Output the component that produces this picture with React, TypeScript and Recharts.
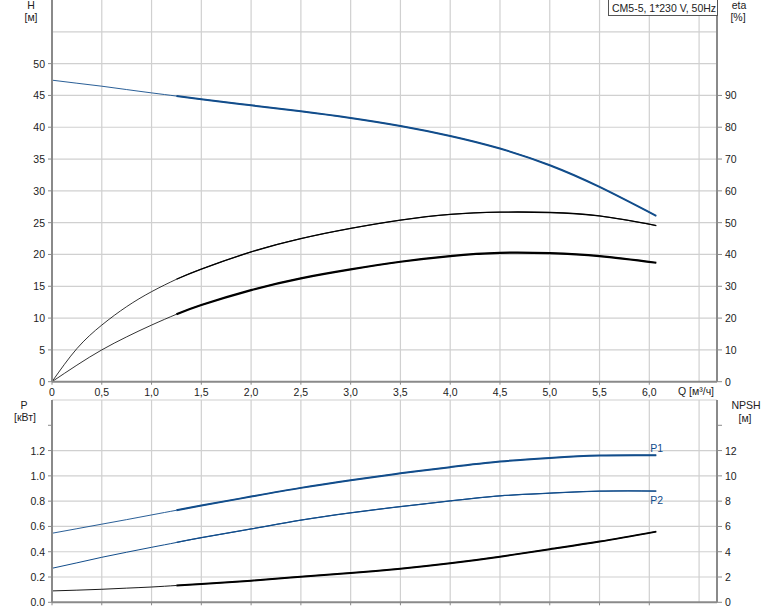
import { LineChart, Line, XAxis, YAxis, CartesianGrid } from "recharts";

// ---------------------------------------------------------------------------
// Data
// ---------------------------------------------------------------------------

const flow = [0, 0.25, 0.5, 0.75, 1.0, 1.25, 1.5, 2.0, 2.5, 3.0, 3.5, 4.0, 4.5, 5.0, 5.5, 6.07];
const head = [47.4, 46.92, 46.45, 45.92, 45.4, 44.9, 44.4, 43.45, 42.5, 41.45, 40.2, 38.63, 36.65, 34.03, 30.62, 26.07];
const etaPump = [0, 10.4, 17.8, 23.6, 28.3, 32.2, 35.4, 40.8, 45.0, 48.2, 50.8, 52.6, 53.3, 53.2, 52.1, 49.1];
const etaTotal = [0, 5.2, 10.0, 14.1, 17.8, 21.2, 24.1, 28.8, 32.5, 35.3, 37.7, 39.5, 40.5, 40.4, 39.5, 37.4];
const powerP1 = [0.546, 0.582, 0.618, 0.654, 0.691, 0.728, 0.765, 0.836, 0.905, 0.965, 1.02, 1.069, 1.113, 1.142, 1.161, 1.163];
const powerP2 = [0.269, 0.312, 0.356, 0.396, 0.435, 0.473, 0.511, 0.58, 0.65, 0.708, 0.757, 0.802, 0.842, 0.863, 0.879, 0.88];
const npsh = [0.9, 0.96, 1.03, 1.12, 1.21, 1.33, 1.45, 1.71, 2.03, 2.32, 2.66, 3.09, 3.61, 4.2, 4.8, 5.59];

const qTicks = [0, 0.5, 1.0, 1.5, 2.0, 2.5, 3.0, 3.5, 4.0, 4.5, 5.0, 5.5, 6.0, 6.5];
const hTicks = [0, 5, 10, 15, 20, 25, 30, 35, 40, 45, 50];
const hGrid = [5, 10, 15, 20, 25, 30, 35, 40, 45, 50, 55];
const etaTicks = [0, 10, 20, 30, 40, 50, 60, 70, 80, 90];
const pTicks = [0, 0.2, 0.4, 0.6, 0.8, 1.0, 1.2, 1.4];
const pGrid = [0.2, 0.4, 0.6, 0.8, 1.0, 1.2, 1.6];
const npshTicks = [0, 2, 4, 6, 8, 10, 12, 14];

// operating range starts here: curves are drawn heavier from this flow on
const DUTY_START = 1.25;

const rows = flow.map((q, i) => ({
  q,
  h: head[i],
  etaP: etaPump[i],
  etaT: etaTotal[i],
  p1: powerP1[i],
  p2: powerP2[i],
  npsh: npsh[i],
}));
const thickRows = rows.filter((r) => r.q >= DUTY_START);

// ---------------------------------------------------------------------------
// Styles
// ---------------------------------------------------------------------------

const FONT = "'Liberation Sans', Arial, sans-serif";
const FONT_SIZE = 10.5;
const TEXT = "#222";
const AXIS = "#8a8a8a";
const GRID = "#d0d0d0";
const BLUE = "#124d8b";
const Q_MAX = 6.68;

const textProps = { fontFamily: FONT, fontSize: FONT_SIZE, fill: TEXT };

type Side = "left" | "right" | "bottom";

const makeTick =
  (side: Side, labelled: number[], marked: number[], fmt: (v: number) => string) =>
  (props: any) => {
    const { x, y, payload } = props;
    const v = payload.value as number;
    const hasLabel = labelled.some((t) => Math.abs(t - v) < 1e-6);
    const hasMark = marked.some((t) => Math.abs(t - v) < 1e-6);
    if (side === "left") {
      return (
        <g>
          {hasMark && <line x1={x - 4} x2={x} y1={y} y2={y} stroke={AXIS} />}
          {hasLabel && (
            <text x={x - 7} y={y} textAnchor="end" dominantBaseline="central" {...textProps}>
              {fmt(v)}
            </text>
          )}
        </g>
      );
    }
    if (side === "right") {
      return (
        <g>
          {hasMark && <line x1={x} x2={x + 5} y1={y} y2={y} stroke={AXIS} />}
          {hasLabel && (
            <text x={x + 8} y={y} textAnchor="start" dominantBaseline="central" {...textProps}>
              {fmt(v)}
            </text>
          )}
        </g>
      );
    }
    return (
      <g>
        {hasMark && <line x1={x} x2={x} y1={y} y2={y + 3} stroke={AXIS} />}
        {hasLabel && (
          <text x={x} y={y + 10} textAnchor="middle" dominantBaseline="central" {...textProps}>
            {fmt(v)}
          </text>
        )}
      </g>
    );
  };

const fmtQ = (v: number) => (v === 0 ? "0" : v.toFixed(1).replace(".", ","));
const fmtInt = (v: number) => String(Math.round(v));
const fmtP = (v: number) => v.toFixed(1);

const endLabel =
  (text: string, dy: number) =>
  (props: any) => {
    if (props.index !== thickRows.length - 1) return <g />;
    return (
      <text x={props.x - 6} y={props.y + dy} dominantBaseline="central" fontFamily={FONT} fontSize={FONT_SIZE} fill={BLUE}>
        {text}
      </text>
    );
  };

// a curve = thin line over the full range + heavier line over the duty range
function curveLines(dataKey: string, yAxisId: string, color: string, thin: number, thick: number, label?: any) {
  return [
    <Line
      key={dataKey + "-full"}
      xAxisId="q"
      yAxisId={yAxisId}
      data={rows}
      dataKey={dataKey}
      type="natural"
      stroke={color}
      strokeWidth={thin}
      dot={false}
      isAnimationActive={false}
    />,
    <Line
      key={dataKey + "-duty"}
      xAxisId="q"
      yAxisId={yAxisId}
      data={thickRows}
      dataKey={dataKey}
      type="natural"
      stroke={color}
      strokeWidth={thick}
      dot={false}
      isAnimationActive={false}
      label={label}
    />,
  ];
}

// ---------------------------------------------------------------------------
// Component
// ---------------------------------------------------------------------------

export default function App() {
  const axisLine = { stroke: AXIS, strokeWidth: 2 };
  const qTicksLabelled = qTicks.filter((t) => t <= 6.0);

  return (
    <div style={{ position: "absolute", left: 0, top: 0, width: 774, height: 611, background: "#fff" }}>
      {/* H / eta panel */}
      <div style={{ position: "absolute", left: 0, top: 0 }}>
        <LineChart width={774} height={400} data={rows} margin={{ top: 0, right: 0, bottom: 0, left: 0 }}>
          <CartesianGrid
            xAxisId="q"
            yAxisId="h"
            stroke={GRID}
            strokeWidth={1.2}
            horizontalValues={hGrid}
            verticalValues={qTicks.slice(1)}
          />
          <XAxis
            xAxisId="q"
            dataKey="q"
            type="number"
            domain={[0, Q_MAX]}
            ticks={qTicks}
            height={18.3}
            axisLine={axisLine}
            tickLine={false}
            tickSize={0}
            tickMargin={0}
            interval={0}
            tick={makeTick("bottom", qTicksLabelled, qTicksLabelled, fmtQ)}
          />
          <YAxis
            yAxisId="h"
            orientation="left"
            type="number"
            domain={[0, 60]}
            ticks={hTicks}
            width={52}
            axisLine={axisLine}
            tickLine={false}
            tickSize={0}
            tickMargin={0}
            interval={0}
            tick={makeTick("left", hTicks, hTicks, fmtInt)}
          />
          <YAxis
            yAxisId="eta"
            orientation="right"
            type="number"
            domain={[0, 120]}
            ticks={etaTicks}
            width={57}
            axisLine={axisLine}
            tickLine={false}
            tickSize={0}
            tickMargin={0}
            interval={0}
            tick={makeTick("right", etaTicks, etaTicks, fmtInt)}
          />
          {curveLines("etaP", "eta", "#000", 0.8, 1.3)}
          {curveLines("etaT", "eta", "#000", 0.8, 2.2)}
          {curveLines("h", "h", BLUE, 0.9, 2)}
        </LineChart>
      </div>

      {/* P / NPSH panel */}
      <div style={{ position: "absolute", left: 0, top: 396 }}>
        <LineChart width={774} height={215} data={rows} margin={{ top: 4, right: 0, bottom: 0, left: 0 }}>
          <CartesianGrid
            xAxisId="q"
            yAxisId="p"
            stroke={GRID}
            strokeWidth={1.2}
            horizontalValues={pGrid}
            verticalValues={qTicks.slice(1)}
          />
          <XAxis
            xAxisId="q"
            dataKey="q"
            type="number"
            domain={[0, Q_MAX]}
            ticks={qTicks}
            height={8.7}
            axisLine={axisLine}
            tickLine={false}
            tickSize={0}
            tickMargin={0}
            interval={0}
            tick={makeTick("bottom", [], qTicksLabelled, fmtQ)}
          />
          <YAxis
            yAxisId="p"
            orientation="left"
            type="number"
            domain={[0, 1.6]}
            ticks={pTicks}
            width={52}
            axisLine={axisLine}
            tickLine={false}
            tickSize={0}
            tickMargin={0}
            interval={0}
            tick={makeTick("left", pTicks.filter((t) => t <= 1.2), pTicks, fmtP)}
          />
          <YAxis
            yAxisId="npsh"
            orientation="right"
            type="number"
            domain={[0, 16]}
            ticks={npshTicks}
            width={57}
            axisLine={axisLine}
            tickLine={false}
            tickSize={0}
            tickMargin={0}
            interval={0}
            tick={makeTick("right", npshTicks.filter((t) => t <= 12), npshTicks, fmtInt)}
          />
          {curveLines("npsh", "npsh", "#000", 0.9, 2)}
          {curveLines("p2", "p", BLUE, 1, 1.3, endLabel("P2", 9))}
          {curveLines("p1", "p", BLUE, 0.9, 2, endLabel("P1", -7))}
        </LineChart>
      </div>

      {/* axis titles and caption */}
      <svg width={774} height={611} style={{ position: "absolute", left: 0, top: 0, pointerEvents: "none" }}>
        <g {...textProps} dominantBaseline="central" textAnchor="middle">
          <text x={31} y={5}>H</text>
          <text x={31} y={17}>[м]</text>
          <text x={739} y={5}>eta</text>
          <text x={738} y={17}>[%]</text>
          <text x={24} y={405}>P</text>
          <text x={25} y={417}>[кВт]</text>
          <text x={746} y={405}>NPSH</text>
          <text x={745} y={418}>[м]</text>
          <text x={678} y={391} textAnchor="start">Q [м³/ч]</text>
        </g>
        <rect x={608.5} y={-0.5} width={109} height={16} fill="#fff" stroke="#555" />
        <text x={612} y={8} dominantBaseline="central" {...textProps}>
          CM5-5, 1*230 V, 50Hz
        </text>
      </svg>
    </div>
  );
}
